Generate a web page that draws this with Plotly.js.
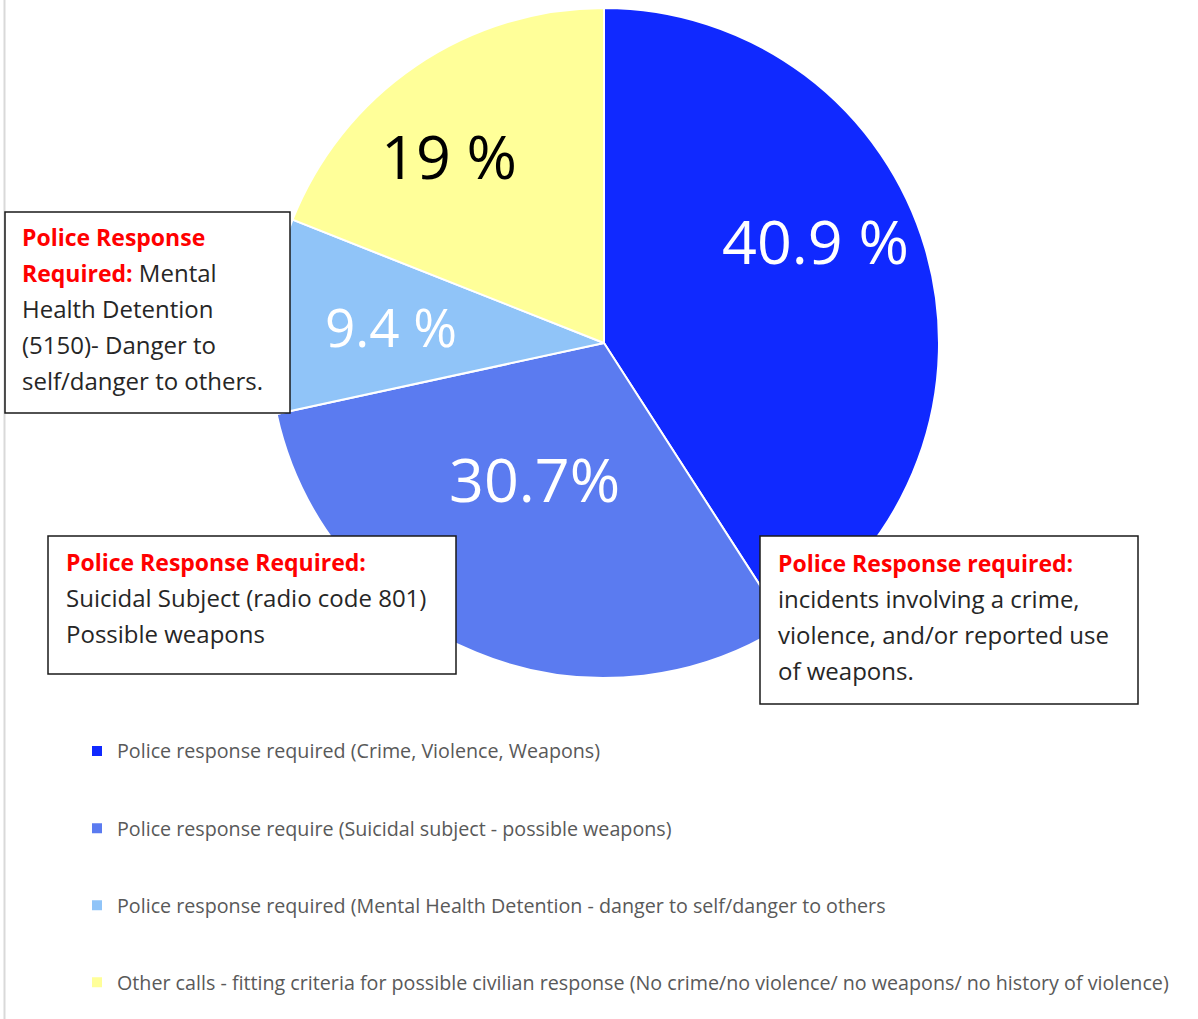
<!DOCTYPE html>
<html><head><meta charset="utf-8">
<script src="https://cdn.plot.ly/plotly-3.0.1.min.js"></script>
<style>html,body{margin:0;padding:0;background:#fff}</style>
</head><body><div id="chart" style="width:1198px;height:1019px"></div>
<script>
// ---- data ----
const categories = [
  "Police response required (Crime, Violence, Weapons)",
  "Police response require (Suicidal subject - possible weapons)",
  "Police response required (Mental Health Detention - danger to self/danger to others",
  "Other calls - fitting criteria for possible civilian response (No crime/no violence/ no weapons/ no history of violence)"
];
const shares = [40.9, 30.7, 9.4, 19];
const sliceLabels = ["40.9 %", "30.7%", "9.4 %", "19 %"];
const sliceColors = ["#1029FF", "#5B7BF0", "#90C4F8", "#FFFF99"];
const labelColors = ["#FFFFFF", "#FFFFFF", "#FFFFFF", "#000000"];

// callout boxes: red heading lines + black lines
const calloutMental = { red: ["Police Response", "Required:"], black: [" Mental", "Health Detention", "(5150)- Danger to", "self/danger to others."] };
const calloutSuicidal = { red: ["Police Response Required:"], black: ["Suicidal Subject (radio code 801)", "Possible weapons"] };
const calloutCrime = { red: ["Police Response required:"], black: ["incidents involving a crime,", "violence, and/or reported use", "of weapons."] };

// ---- layout helpers ----
const W = 1198, H = 1019;
const px = x => x / W;
const py = y => 1 - y / H;
const RED = t => '<span style="color:#FF0000;font-size:23px"><b>' + t + '</b></span>';
const SM = t => '<span style="font-size:24px">' + t + '</span>';

function calloutText(c, joinSecond) {
  const lines = [];
  if (joinSecond) {
    for (let i = 0; i < c.red.length - 1; i++) lines.push(RED(c.red[i]));
    lines.push(RED(c.red[c.red.length - 1]) + c.black[0]);
    for (let i = 1; i < c.black.length; i++) lines.push(c.black[i]);
  } else {
    c.red.forEach(r => lines.push(RED(r)));
    c.black.forEach(b => lines.push(b));
  }
  return lines.map(SM).join('<br>');
}

const trace = {
  type: 'pie',
  labels: categories.map(c => ' <br><span style="font-size:19.7px">' + c + '</span><br> '),
  values: shares,
  textinfo: 'none',
  sort: false,
  direction: 'clockwise',
  rotation: 0,
  marker: { colors: sliceColors, line: { color: '#FFFFFF', width: 2 } },
  domain: { x: [px(269), px(939)], y: [py(678), py(8)] },
  hoverinfo: 'none'
};

const boxLine = { color: '#1A1A1A', width: 1.5 };
const shapes = [
  { type: 'line', xref: 'paper', yref: 'paper', x0: px(4.5), x1: px(4.5), y0: 0, y1: 1, line: { color: '#D9D9D9', width: 2 }, layer: 'above' },
  { type: 'rect', xref: 'paper', yref: 'paper', x0: px(5), x1: px(290), y0: py(413), y1: py(212), line: boxLine, fillcolor: '#FFFFFF', layer: 'above' },
  { type: 'rect', xref: 'paper', yref: 'paper', x0: px(48), x1: px(456), y0: py(674), y1: py(536), line: boxLine, fillcolor: '#FFFFFF', layer: 'above' },
  { type: 'rect', xref: 'paper', yref: 'paper', x0: px(760), x1: px(1138), y0: py(704), y1: py(536), line: boxLine, fillcolor: '#FFFFFF', layer: 'above' }
];

// slice percentage labels (placed as in the original chart)
const sliceLabelPos = [[815.5, 240], [534, 478], [391, 327], [449, 155]];
const sliceLabelSize = [61, 61, 53, 61];
const pctAnnotations = sliceLabels.map((t, i) => ({
  xref: 'paper', yref: 'paper', showarrow: false,
  x: px(sliceLabelPos[i][0]), y: py(sliceLabelPos[i][1]),
  xanchor: 'center', yanchor: 'middle', borderpad: 0, borderwidth: 0,
  text: t, font: { family: 'Open Sans', size: sliceLabelSize[i], color: labelColors[i] }
}));

const annFont = { family: 'Open Sans', size: 27.7, color: '#262626' };
const annBase = { xref: 'paper', yref: 'paper', showarrow: false, align: 'left', xanchor: 'left', yanchor: 'top', font: annFont, borderpad: 0, borderwidth: 0 };
const annotations = pctAnnotations.concat([
  Object.assign({}, annBase, { x: px(22), y: py(221.4), text: calloutText(calloutMental, true) }),
  Object.assign({}, annBase, { x: px(66), y: py(546.4), text: calloutText(calloutSuicidal, false) }),
  Object.assign({}, annBase, { x: px(778), y: py(547.4), text: calloutText(calloutCrime, false) })
]);

const layout = {
  width: W, height: H,
  margin: { l: 0, r: 0, t: 0, b: 0, autoexpand: false },
  paper_bgcolor: '#FFFFFF',
  showlegend: true,
  legend: {
    x: px(77), xanchor: 'left', y: py(707.5), yanchor: 'top',
    font: { family: 'Open Sans', size: 19, color: '#595959' },
    bgcolor: 'rgba(0,0,0,0)', itemclick: false, itemdoubleclick: false
  },
  shapes: shapes,
  annotations: annotations
};

Plotly.newPlot('chart', [trace], layout, { displayModeBar: false, staticPlot: true });
</script></body></html>
